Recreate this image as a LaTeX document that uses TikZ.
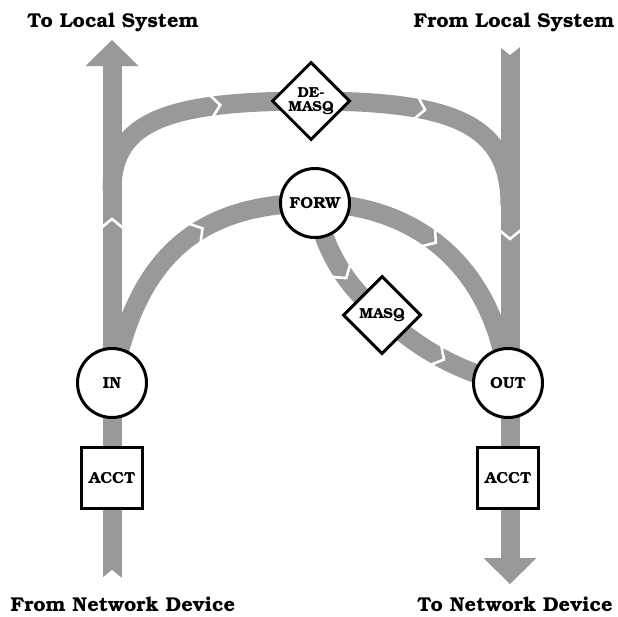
\documentclass[tikz,border=0pt]{standalone}
\usepackage[T1]{fontenc}
\renewcommand{\rmdefault}{pbk}
\usepackage{tikz}
\usetikzlibrary{arrows.meta,positioning,shapes.geometric,decorations.markings,backgrounds}
\definecolor{bandcol}{HTML}{999999}

\begin{document}
\begin{tikzpicture}[x=1pt,y=-1pt,
  band/.style={draw=bandcol,line width=19pt},
  head/.style={-{Triangle[length=26pt,width=53pt,line width=0pt]}},
  chev/.style={postaction={decorate,decoration={markings,mark=at position #1 with {\draw[white,line width=2.6pt,arrows=-] (-5pt,-11pt) -- (4pt,0pt) -- (-5pt,11pt);}}}},
  notch/.style={postaction={decorate,decoration={markings,mark=at position 0 with {\fill[white,arrows=-] (-1pt,-11pt) -- (8pt,0pt) -- (-1pt,11pt) -- cycle;}}}},
  stage/.style={circle,draw,line width=3pt,fill=white,minimum size=69pt,inner sep=0pt,font=\fontsize{16}{17}\selectfont\bfseries},
  acct/.style={rectangle,draw,line width=3pt,fill=white,minimum size=61pt,inner sep=0pt,font=\fontsize{16}{17}\selectfont\bfseries},
  gate/.style={diamond,draw,line width=3pt,fill=white,minimum size=78pt,inner sep=0pt,align=center,font=\fontsize{14.5}{14}\selectfont\bfseries},
  title/.style={anchor=base,font=\fontsize{20}{22}\selectfont\bfseries}
]
\useasboundingbox (0,0) rectangle (618,616);
% chains
\node[stage] (ipin) at (112,383) {IN};
\node[stage] (ipout) at (508,383) {OUT};
\node[stage] (ipfw) at (315,203) {FORW};
\node[acct,below=27pt of ipin] (acctin) {ACCT};
\node[acct,below=27pt of ipout] (acctout) {ACCT};
\node[gate] (demasq) at (311,101) {DE-\\MASQ};
\node[gate] (masq) at (382,315) {MASQ};
% ends of the bands
\coordinate (netin) at (112,578);
\coordinate (locout) at (112,40);
\coordinate (locin) at (510,47);
\coordinate (netout) at (510,584);
\coordinate (jl) at (112,190);
\coordinate (jr) at (510,205);
\node[title] (tloc) at (113,27) {To Local System};
\node[title] (floc) at (514,27) {From Local System};
\node[title] (fnet) at (123,611) {From Network Device};
\node[title] (tnet) at (515,611) {To Network Device};
\begin{scope}[on background layer]
\draw[band,head,notch,chev=0.66] (netin) -- (locout);
\draw[band,head,notch,chev=0.35] (locin) -- (netout);
\draw[band,chev=0.30,chev=0.71] (jl) .. controls (112,120) and (170,101) .. (demasq.center) .. controls (455,101) and (510,125) .. (jr);
\draw[band,chev=0.6] (ipin.center) .. controls (135,265) and (190,203) .. (ipfw.center);
\draw[band,chev=0.43] (ipfw.center) .. controls (420,205) and (495,270) .. (ipout.center);
\draw[band,chev=0.28,chev=0.74] (ipfw.center) .. controls (325,255) and (350,290) .. (masq.center) .. controls (420,350) and (460,372) .. (ipout.center);
\end{scope}
\end{tikzpicture}
\end{document}
